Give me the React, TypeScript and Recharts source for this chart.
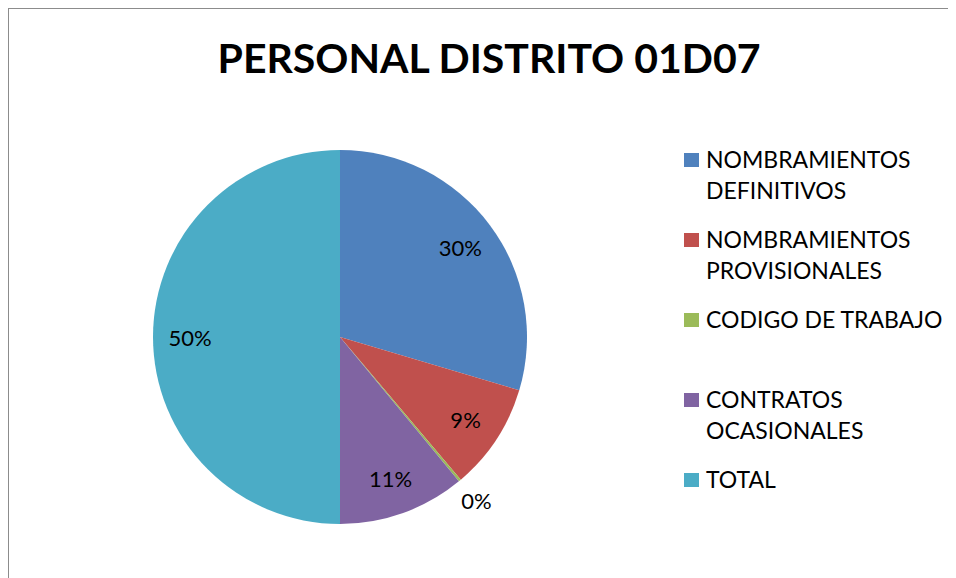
import { PieChart, Pie, Cell, Legend } from "recharts"

const categories = [
  "NOMBRAMIENTOS DEFINITIVOS",
  "NOMBRAMIENTOS PROVISIONALES",
  "CODIGO DE TRABAJO",
  "CONTRATOS OCASIONALES",
  "TOTAL",
]
const personal = [270, 84, 2, 100, 456]
const colors = ["#4F81BD", "#C0504D", "#9BBB59", "#8064A2", "#4BACC6"]

const data = categories.map((name, i) => ({ name, value: personal[i] }))

const FONT = "Lato, 'Open Sans', sans-serif"
const RAD = Math.PI / 180

const renderLabel = (props: any) => {
  const { cx, cy, midAngle, percent } = props
  const pct = Math.round(percent * 100)
  const r = percent < 0.01 ? 213 : 150
  const x = cx + r * Math.cos(-midAngle * RAD)
  const y = cy + r * Math.sin(-midAngle * RAD)
  return (
    <text
      x={x}
      y={y}
      textAnchor="middle"
      dominantBaseline="central"
      fill="#000"
      fontSize={22}
      fontFamily={FONT}
    >
      {pct}%
    </text>
  )
}

// legend keeps the series order (Recharts would sort it by name)
const renderLegend = () => (
  <div style={{ position: "relative", fontFamily: FONT }}>
    {categories.map((name, i) => (
      <div
        key={name}
        style={{
          position: "absolute",
          left: 0,
          top: i * 80,
          display: "flex",
          alignItems: "flex-start",
        }}
      >
        <div
          style={{
            width: 15,
            height: 14,
            marginTop: 9,
            marginRight: 7,
            background: colors[i],
          }}
        />
        <div
          style={{
            width: 245,
            fontSize: 23,
            lineHeight: "31px",
            color: "#000",
          }}
        >
          {name}
        </div>
      </div>
    ))}
  </div>
)

export default function App() {
  return (
    <div
      style={{
        position: "relative",
        width: 956,
        height: 578,
        margin: "-8px 0 0 -8px",
        background: "#fff",
        overflow: "hidden",
      }}
    >
      <div
        style={{
          position: "absolute",
          left: 7,
          top: 7,
          width: 1000,
          height: 1000,
          borderLeft: "2px solid #8c8c8c",
          borderTop: "2px solid #8c8c8c",
        }}
      />
      <div
        style={{
          position: "absolute",
          left: 0,
          width: 978,
          top: 28,
          textAlign: "center",
          fontFamily: FONT,
          fontWeight: 700,
          fontSize: 41,
          lineHeight: "60px",
          color: "#000",
        }}
      >
        PERSONAL DISTRITO 01D07
      </div>
      <div style={{ position: "absolute", left: 0, top: 0 }}>
        <PieChart width={956} height={578} margin={{ top: 0, right: 0, bottom: 0, left: 0 }}>
          <Pie
            data={data}
            dataKey="value"
            nameKey="name"
            cx={340}
            cy={337}
            outerRadius={187}
            startAngle={90}
            endAngle={-270}
            stroke="none"
            label={renderLabel}
            labelLine={false}
            isAnimationActive={false}
          >
            {data.map((d, i) => (
              <Cell key={d.name} fill={colors[i]} />
            ))}
          </Pie>
          <Legend
            layout="vertical"
            align="right"
            verticalAlign="top"
            content={renderLegend}
            wrapperStyle={{ left: 684, top: 144, width: 270 }}
          />
        </PieChart>
      </div>
    </div>
  )
}
